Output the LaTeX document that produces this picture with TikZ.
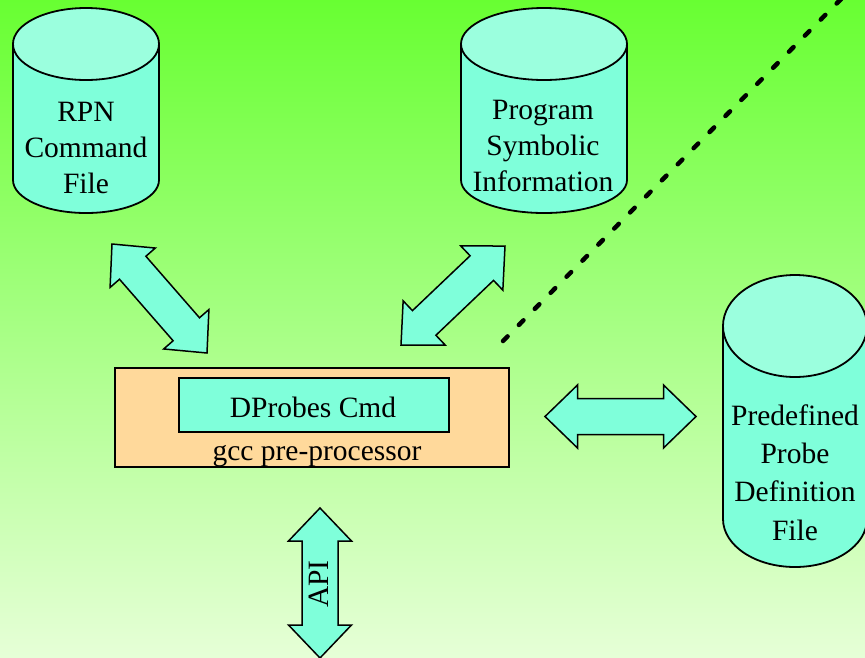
\documentclass[tikz,border=0pt]{standalone}
\usepackage{fontspec}
\setmainfont{Liberation Serif}
\usetikzlibrary{calc}
\definecolor{bgtop}{RGB}{104,255,50}
\definecolor{bgbot}{RGB}{230,255,215}
\definecolor{aqua}{RGB}{127,255,218}
\definecolor{aqualight}{RGB}{155,255,222}
\definecolor{peach}{RGB}{255,217,155}
\tikzset{
  cylbody/.style={fill=aqua, draw=black, line width=1.8pt, line join=round},
  cyltop/.style={fill=aqualight, draw=black, line width=1.8pt},
  labeltext/.style={font=\fontsize{29.5}{36}\selectfont, align=center, inner sep=0pt},
  blockarrow/.style={fill=aqua, draw=black, line width=1.5pt, line join=miter},
  boxstyle/.style={draw=black, line width=1.5pt, inner sep=0pt},
  dotline/.style={line width=4.5pt, dash pattern=on 6.5pt off 16.1pt, line cap=round}
}
% #1 A, #2 B, #3 head length, #4 head half width, #5 shaft half width
\newcommand\dblarrow[5]{%
  \draw[blockarrow] (#1)
    -- ($(#1)!#3!(#2)!#4!90:(#2)$)
    -- ($(#1)!#3!(#2)!#5!90:(#2)$)
    -- ($(#2)!#3!(#1)!#5!-90:(#1)$)
    -- ($(#2)!#3!(#1)!#4!-90:(#1)$)
    -- (#2)
    -- ($(#2)!#3!(#1)!#4!90:(#1)$)
    -- ($(#2)!#3!(#1)!#5!90:(#1)$)
    -- ($(#1)!#3!(#2)!#5!-90:(#2)$)
    -- ($(#1)!#3!(#2)!#4!-90:(#2)$)
    -- cycle;}
% #1 cx, #2 rx, #3 top cy, #4 top ry, #5 bottom cy, #6 bottom ry
\newcommand\cylshape[6]{%
  \draw[cylbody] ({#1-#2},#3) -- ({#1-#2},#5)
    .. controls ({#1-#2},{#5+0.5523*#6}) and ({#1-0.5523*#2},{#5+#6}) .. (#1,{#5+#6})
    .. controls ({#1+0.5523*#2},{#5+#6}) and ({#1+#2},{#5+0.5523*#6}) .. ({#1+#2},#5)
    -- ({#1+#2},#3) -- cycle;
  \draw[cyltop] (#1,#3) ellipse [x radius=#2pt, y radius=#4pt];}
\begin{document}
\begin{tikzpicture}[x=1pt,y=-1pt]
\useasboundingbox (0,0) rectangle (865,657);
\clip (0,0) rectangle (865,657);
\fill[top color=bgtop, bottom color=bgbot] (0,0) rectangle (865,657);

% dotted line
\coordinate (dotstart) at (503,341);
\coordinate (dotend) at (848,-8);
\draw[dotline] (dotstart) -- (dotend);

% cylinders
\cylshape{86}{73}{44}{36}{180}{33}
\node[labeltext] (rpn) at (86,148) {RPN\\Command\\File};

\cylshape{544}{83}{44}{36}{180}{33}
\node[labeltext] (psi) at (543,145.5) {Program\\Symbolic\\Information};

\cylshape{795}{72}{326}{51}{519}{48}
\node[labeltext, font=\fontsize{29.5}{38.3}\selectfont] (ppd) at (795,472.5) {Predefined\\Probe\\Definition\\File};

% gcc box
\node[boxstyle, fill=peach, minimum width=394pt, minimum height=99pt] (gcc) at (312,417.5) {};
\node[boxstyle, fill=aqua, minimum width=270pt, minimum height=54pt] (dpbox) at (314,405) {};
\node[labeltext, anchor=base] (dptext) at (313,417) {DProbes Cmd};
\node[labeltext, anchor=base] (gcctext) at (317,460) {gcc pre-processor};

% block arrows
\coordinate (a1s) at (112,244); \coordinate (a1e) at (207,353);
\dblarrow{a1s}{a1e}{31.5pt}{30pt}{17.5pt}
\coordinate (a2s) at (505,246); \coordinate (a2e) at (401,345);
\dblarrow{a2s}{a2e}{32pt}{30.5pt}{17pt}
\coordinate (a3s) at (545,416.5); \coordinate (a3e) at (696,416.5);
\dblarrow{a3s}{a3e}{32.5pt}{31.5pt}{18pt}
\coordinate (a4s) at (320,508); \coordinate (a4e) at (320,658);
\dblarrow{a4s}{a4e}{33pt}{31.5pt}{18pt}
\node[labeltext, rotate=90] (api) at (319,584) {API};
\end{tikzpicture}
\end{document}
